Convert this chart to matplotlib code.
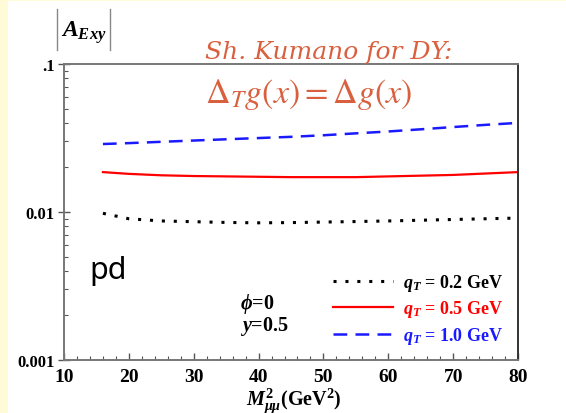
import matplotlib
matplotlib.use("Agg")
import matplotlib.pyplot as plt
from matplotlib.patches import Rectangle
from matplotlib.lines import Line2D
from matplotlib.ticker import FixedLocator, FixedFormatter, LogLocator, MultipleLocator, NullFormatter

plt.rcParams['mathtext.fontset'] = 'custom'
plt.rcParams['mathtext.rm'] = 'Liberation Serif:bold'
plt.rcParams['mathtext.it'] = 'Liberation Serif:italic:bold'
plt.rcParams['mathtext.bf'] = 'Liberation Serif:bold'

# Data
M2 = [16, 20, 25, 30, 35, 40, 45, 50, 55, 60, 65, 70, 75, 80]
A_q02 = [0.0098, 0.0090, 0.0087, 0.00860, 0.00850, 0.00845, 0.00848, 0.00855, 0.00862, 0.00870, 0.00880, 0.00890, 0.00900, 0.0091]
A_q05 = [0.0186, 0.0181, 0.0177, 0.0175, 0.0174, 0.0173, 0.0172, 0.0172, 0.0172, 0.0174, 0.0176, 0.0178, 0.0182, 0.0186]
A_q10 = [0.0288, 0.0292, 0.0298, 0.0304, 0.0310, 0.0316, 0.0322, 0.0330, 0.0340, 0.0350, 0.0362, 0.0375, 0.0388, 0.0400]
labels = [r"$q_T$ = 0.2 GeV", r"$q_T$ = 0.5 GeV", r"$q_T$ = 1.0 GeV"]
xticks = [10, 20, 30, 40, 50, 60, 70, 80]
yticks = [0.001, 0.01, 0.1]
yticklabels = ["0.001", "0.01", ".1"]

W, H = 566, 414
fig = plt.figure(figsize=(W / 100, H / 100), dpi=100, facecolor='#fffbd6')
fig.patches.append(Rectangle((8 / W, 0), 1 - 8 / W, 1 - 2 / H, transform=fig.transFigure,
                             facecolor='white', edgecolor='none', zorder=-10))

ax = fig.add_axes([64 / W, 1 - 361 / H, (518 - 64) / W, (361 - 65) / H])
ax.set_facecolor('white')

l1, = ax.plot(M2, A_q02, color='black', lw=2.2, linestyle=(0, (1.0, 2.9)), dash_capstyle='butt')
l2, = ax.plot(M2, A_q05, color='#ff0000', lw=1.6, linestyle='-')
l3, = ax.plot(M2, A_q10, color='#1a1aff', lw=1.8, linestyle=(0, (5.5, 3.3)))

ax.set_yscale('log')
ax.set_xlim(10, 80)
ax.set_ylim(0.001, 0.1)

ax.yaxis.set_major_locator(FixedLocator(yticks))
ax.yaxis.set_major_formatter(FixedFormatter(yticklabels))
ax.yaxis.set_minor_locator(LogLocator(base=10, subs=range(2, 10)))
ax.yaxis.set_minor_formatter(NullFormatter())
ax.xaxis.set_major_locator(FixedLocator(xticks))
ax.xaxis.set_minor_locator(MultipleLocator(2))

ax.tick_params(axis='both', which='both', direction='in', top=False, right=False,
               color='#555555')
ax.tick_params(axis='x', which='major', length=5, width=1.0, labelsize=14, pad=6)
ax.tick_params(axis='y', which='major', direction='inout', length=9, width=1.0, labelsize=12, pad=2)
ax.tick_params(axis='both', which='minor', length=3, width=0.8)
for lab in ax.get_xticklabels() + ax.get_yticklabels():
    lab.set_fontfamily('Liberation Serif')
    lab.set_fontweight('bold')
for s in ax.spines.values():
    s.set_color('#777777')
    s.set_linewidth(1.4)
ax.spines['right'].set_color('#333333')

# axis labels
fig.text(61 / W, 1 - 37 / H, r"$A_{Exy}$", fontsize=17, ha='left', va='baseline', math_fontfamily='custom')
fig.add_artist(Line2D([57 / W, 57 / W], [1 - 10 / H, 1 - 51 / H], color='#888888', lw=1.0))
fig.add_artist(Line2D([110 / W, 110 / W], [1 - 10 / H, 1 - 51 / H], color='#888888', lw=1.0))
fig.text(294 / W, 1 - 401 / H, r"$M^2_{\mu\mu}$(GeV$^2$)", fontsize=14.5, ha='center', va='center',
         fontfamily='Liberation Serif', fontweight='bold')

# title texts
red = '#d9603f'
fig.text(205 / W, 1 - 59 / H, "Sh. Kumano for DY:", fontsize=18, style='italic', color=red,
         ha='left', va='baseline', fontfamily='DejaVu Serif')
fig.text(205 / W, 1 - 103 / H, r"$\Delta_T g(x) = \Delta g(x)$", fontsize=24.5, color=red,
         ha='left', va='baseline', math_fontfamily='stix')

# annotations
fig.text(108 / W, 1 - 271 / H, "pd", fontsize=22, fontfamily='Noto Sans', ha='center', va='center')
fig.text(240 / W, 1 - 304 / H, r"$\phi$=0", fontsize=14.5, fontfamily='Liberation Serif',
         fontweight='bold', ha='left', va='center')
fig.text(240 / W, 1 - 327 / H, r"$y$=0.5", fontsize=14.5, fontfamily='Liberation Serif',
         fontweight='bold', ha='left', va='center')

leg = ax.legend([l1, l2, l3], labels, loc='center left',
                bbox_to_anchor=((333 - 64) / (518 - 64), (361 - 310) / (361 - 65)),
                frameon=False, handlelength=3.3, handletextpad=0.6, labelspacing=0.3,
                borderaxespad=0, borderpad=0,
                prop={'family': 'Liberation Serif', 'weight': 'bold', 'size': 13},
                labelcolor='linecolor')

fig.savefig("out.png", dpi=100, facecolor=fig.get_facecolor())
